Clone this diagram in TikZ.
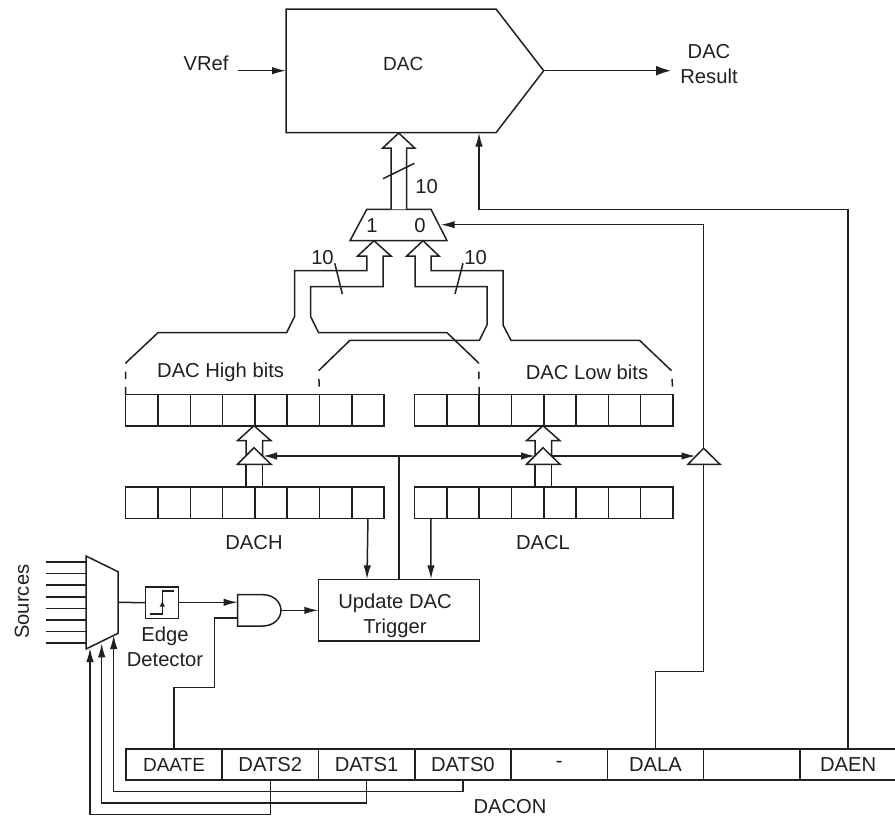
\documentclass[tikz,border=0pt]{standalone}
\usepackage{fontspec}
\setmainfont{Liberation Sans}
\usetikzlibrary{arrows.meta}
\definecolor{ink}{HTML}{231F20}

\begin{document}
\begin{tikzpicture}[
    x=1pt,
    y=-1pt,
    node distance=96.3pt,
    every node/.style={text=ink, font=\fontsize{20.2}{25}\selectfont, align=center, inner sep=0pt},
    tight/.style={font=\fontsize{19}{25}\selectfont},
    line/.style={draw=ink, line width=1.5pt, line join=miter},
    bus/.style={line, fill=white},
    arrow/.style={line, -{Latex[length=14pt,width=7.5pt]}},
    bigarrow/.style={line, -{Latex[length=15pt,width=10pt]}},
    cell/.style={line, minimum width=32.3pt, minimum height=31.5pt, outer sep=0pt},
    bitbox/.style={line, minimum width=96.3pt, minimum height=31pt, outer sep=0pt},
    box/.style={line, outer sep=0pt},
    hitick/.style={line, dash pattern=on 7.3pt off 8pt on 7.3pt off 8pt},
    lotick/.style={line, dash pattern=on 0pt off 8.3pt on 7.7pt off 8pt}
]
\useasboundingbox (0,0) rectangle (895,817);

% Nodes
\foreach \i in {0,...,7} {
    \node[cell] (high\i) at ({141.85+32.3*\i},410) {};
    \node[cell] (low\i) at ({430.75+32.3*\i},410) {};
    \node[cell] (dach\i) at ({141.85+32.3*\i},502.5) {};
    \node[cell] (dacl\i) at ({430.75+32.3*\i},502.5) {};
}

\node[bitbox, tight] (daate) at (174,764.5) {DAATE};
\node[bitbox, right of=daate] (dats2) {DATS2};
\node[bitbox, right of=dats2] (dats1) {DATS1};
\node[bitbox, right of=dats1] (dats0) {DATS0};
\node[bitbox, right of=dats0] (dares) {-};
\node[bitbox, right of=dares] (dala) {DALA};
\node[bitbox, right of=dala] (daemp) {};
\node[bitbox, right of=daemp] (daen) {DAEN};

\node[box, minimum width=161pt, minimum height=61.7pt] (trigger) at (398.8,610.2) {};
\node (triggertext) at (395,615.5) {Update DAC\\Trigger};
\node[box, minimum width=32.6pt, minimum height=31.3pt] (edge) at (162,602.7) {};

\node (vref) at (206,63.7) {VRef};
\node[tight] (daclabel) at (403.3,63.7) {DAC};
\node (result) at (709,64.5) {DAC\\Result};
\node (one) at (372,226) {1};
\node (zero) at (420,226) {0};
\node (ten) at (426.6,187) {10};
\node (tenleft) at (322.5,257.3) {10};
\node (tenright) at (475.5,257.3) {10};
\node (highbits) at (220.6,372) {DAC High bits};
\node (lowbits) at (587,372) {DAC Low bits};
\node (dachlabel) at (254,543) {DACH};
\node (acllabel) at (543,543) {DACL};
\node[rotate=90] (sources) at (22,601.7) {Sources};
\node (edgelabel) at (165,646.5) {Edge\\Detector};
\node (daconlabel) at (510,806.5) {DACON};

% Points on the drawn shapes
\coordinate (dacin) at (286,70.7);
\coordinate (vrefout) at (238,70.7);
\coordinate (dacout) at (543.7,70.7);
\coordinate (resultin) at (671,70.7);
\coordinate (dacen) at (479,132.7);
\coordinate (muxsel) at (440.7,224.7);
\coordinate (muxout) at (118,602.3);
\coordinate (andtop) at (237.7,602.3);
\coordinate (andlow) at (237.7,618);
\coordinate (andout) at (281,610.35);
\coordinate (sel2) at (90,648);
\coordinate (sel1) at (101.7,643.3);
\coordinate (sel0) at (113.7,635);
\coordinate (load) at (398.8,456);
\coordinate (loadhigh) at (263,456);
\coordinate (loadlow) at (535,456);
\coordinate (loadnext) at (551.5,456);
\coordinate (loadall) at (695.5,456);
\coordinate (latch) at (703.6,464);
\coordinate (latchtop) at (703.6,448.2);

% Shapes
\draw[line] (286,9) -- (496,9) -- (dacout) -- (496,132.7) -- (286,132.7) -- cycle;
\draw[line] (366.8,209.3) -- (431,209.3) -- (447,240.7) -- (350,240.7) -- cycle;
\draw[line] (86,556) -- (118,571.7) -- (118,633.3) -- (86,649) -- cycle;
\foreach \y in {562,573.6,585.2,596.8,608.4,620,631.6,643.2} {
    \draw[line] (45.7,\y) -- (86,\y);
}
\draw[line] (237.7,594.7) -- (263,594.7) .. controls (273,594.7) and (281,601.7) .. (andout)
    .. controls (281,619) and (273,626) .. (263,626) -- (237.7,626) -- cycle;
\draw[line, line width=1.2pt] (150,614) -- (162.3,614) -- (162.3,591) -- (173.7,591);
\draw[-{Latex[length=6pt,width=5.5pt]}, draw=ink, line width=1.2pt] (162.3,610) -- (162.3,600.5);

% Buses
\draw[bus] (391,209.3) -- (391,148) -- (382.7,148) -- (398.7,133) -- (414.7,148) -- (406.7,148) -- (406.7,209.3);
\draw[line] (383,178.7) -- (414.4,163.3);
\draw[line] (125.7,363) -- (158,332.7) -- (286.6,332.7) -- (294.5,316.7) -- (294.5,270.7) -- (366.8,270.7) -- (366.8,256) -- (357.7,256) -- (374,240.7) -- (391,256) -- (383,256) -- (383,286.7) -- (310.7,286.7) -- (310.7,316.7) -- (318.6,332.7) -- (447,332.7) -- (478.7,363);
\draw[line] (671.5,370.7) -- (639.5,340.3) -- (511,340.3) -- (503,325) -- (503,270.7) -- (431,270.7) -- (431,256) -- (439,256) -- (423,240.7) -- (406.7,256) -- (415,256) -- (415,286.7) -- (487,286.7) -- (487,325) -- (479.4,340.3) -- (350,340.3) -- (318.6,370.7);
\draw[line] (334.8,263.3) -- (342.3,294);
\draw[line] (463,263.3) -- (455,294);
\draw[hitick] (high0.north west) -- (125.7,363);
\draw[hitick] (low2.north west) -- (478.7,363);
\draw[lotick] (318.6,370.7) -- (high6.north west);
\draw[lotick] (671.5,370.7) -- (low7.north east);
\draw[bus] (246,464) -- (246,440.7) -- (237.5,440.7) -- (254,425.7) -- (271,440.7) -- (262.5,440.7) -- (262.5,464);
\draw[bus] (535,464) -- (535,440.7) -- (526.5,440.7) -- (543,425.7) -- (560,440.7) -- (551.5,440.7) -- (551.5,464);
\draw[line] (246,464) -- (246,487);
\draw[line] (262.5,464) -- (262.5,487);
\draw[line] (535,464) -- (535,487);
\draw[line] (551.5,464) -- (551.5,487);
\draw[bus] (254,447.7) -- (271,464.3) -- (237.5,464.3) -- cycle;
\draw[bus] (543,447.7) -- (560,464.3) -- (526.5,464.3) -- cycle;
\draw[bus] (latchtop) -- (720,464.3) -- (688,464.3) -- cycle;

% Arrows
\draw[arrow] (vrefout) -- (dacin);
\draw[bigarrow] (dacout) -- (resultin);
\draw[arrow] (daen.north) |- (479,209.3) -- (dacen);
\draw[line] (dala.north) |- (703.6,671.7) -- (latch);
\draw[arrow] (latchtop) |- (muxsel);
\draw[arrow] (dach7.south) -- (367,579.3);
\draw[arrow] (dacl0.south) -- (431,579.3);
\draw[line] (trigger.north -| load) -- (load);
\draw[arrow] (load) -- (loadhigh);
\draw[arrow] (load) -- (loadlow);
\draw[arrow] (loadnext) -- (loadall);
\draw[line] (muxout) -- (edge.west);
\draw[arrow] (edge.east |- andtop) -- (andtop);
\draw[arrow] (andout) -- (trigger.west |- andout);
\draw[line] (daate.north) |- (214.3,687.3) -- (214.3,618) -- (andlow);
\draw[arrow] (dats2.south) |- (90,814.7) -- (sel2);
\draw[arrow] (dats1.south) |- (101.7,803) -- (sel1);
\draw[arrow] (dats0.south) |- (113.7,791.7) -- (sel0);

\end{tikzpicture}
\end{document}
